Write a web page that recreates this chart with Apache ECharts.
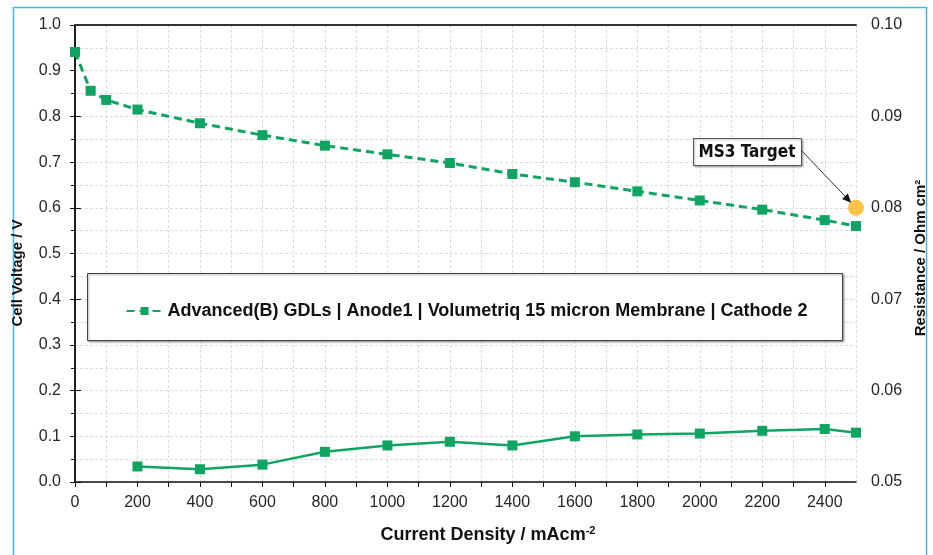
<!DOCTYPE html>
<html>
<head>
<meta charset="utf-8">
<script src="https://cdn.jsdelivr.net/npm/echarts@6/dist/echarts.min.js"></script>
<style>
  html, body { margin: 0; padding: 0; background: #fff; }
  #chart { width: 933px; height: 555px; }
</style>
</head>
<body>
<div id="chart"></div>
<script>
// current density (mA/cm2) for the polarisation curve
const currentDensity = [0, 50, 100, 200, 400, 600, 800, 1000, 1200, 1400, 1600, 1800, 2000, 2200, 2400, 2500]
const cellVoltage = [0.941, 0.856, 0.836, 0.815, 0.785, 0.759, 0.736, 0.717, 0.698, 0.674, 0.656, 0.636, 0.616, 0.596, 0.573, 0.560]

// HFR resistance, right axis
const resistanceDensity = [200, 400, 600, 800, 1000, 1200, 1400, 1600, 1800, 2000, 2200, 2400, 2500]
const resistance = [0.0517, 0.0514, 0.0519, 0.0533, 0.0540, 0.0544, 0.0540, 0.0550, 0.0552, 0.0553, 0.0556, 0.0558, 0.0554]

const targetPoint = [2500, 0.6]
const seriesName = 'Advanced(B) GDLs | Anode1 | Volumetriq 15 micron Membrane | Cathode 2'

const green = '#10a463'
const font = '"Liberation Sans", Arial, sans-serif'

const zip = (xs, ys) => xs.map((x, i) => [x, ys[i]])

const gridLine = { show: true, lineStyle: { color: '#dcdcdc', type: [3, 2], width: 1 } }

var myChart = echarts.init(document.getElementById('chart'))

myChart.setOption({
    animation: false,
    backgroundColor: '#fff',
    textStyle: { fontFamily: font },
    grid: {
        left: 75, right: 77, top: 25, bottom: 73,
        containLabel: false,
    },
    legend: {
        data: [seriesName],
        left: 'center',
        top: 297,
        z: 6,
        itemWidth: 36,
        itemHeight: 10,
        itemGap: 0,
        textStyle: { fontFamily: font, fontWeight: 'bold', fontSize: 18, color: '#111' },
    },
    xAxis: [{
        type: 'value',
        min: 0,
        max: 2500,
        interval: 100,
        axisLine: { show: true, lineStyle: { color: '#111', width: 1.5 } },
        axisTick: { show: true, length: 5, lineStyle: { color: '#111' } },
        axisLabel: {
            fontSize: 16, color: '#262626', margin: 13,
            showMaxLabel: false,
            formatter: v => (v % 200 === 0 ? String(v) : ''),
        },
        splitLine: gridLine,
    }, {
        // top frame line of the plot area
        type: 'value',
        position: 'top',
        min: 0,
        max: 2500,
        z: 5,
        axisLine: { show: true, lineStyle: { color: '#333', width: 2 } },
        axisTick: { show: false },
        axisLabel: { show: false },
        splitLine: { show: false },
    }],
    yAxis: [{
        type: 'value',
        min: 0,
        max: 1,
        interval: 0.1,
        axisLine: { show: true, lineStyle: { color: '#111', width: 1.5 } },
        axisTick: { show: true, length: 5, lineStyle: { color: '#111' } },
        minorTick: { show: true, splitNumber: 2, length: 4, lineStyle: { color: '#111' } },
        axisLabel: { fontSize: 16, color: '#262626', margin: 14, formatter: v => v.toFixed(1) },
        splitLine: gridLine,
        minorSplitLine: gridLine,
    }, {
        type: 'value',
        min: 0.05,
        max: 0.10,
        interval: 0.01,
        position: 'right',
        axisLine: { show: true, lineStyle: { color: '#111', width: 1.5 } },
        axisTick: { show: true, length: 6, lineStyle: { color: '#111' } },
        axisLabel: { fontSize: 16, color: '#262626', margin: 15, formatter: v => v.toFixed(2) },
        splitLine: { show: false },
    }],
    series: [{
        name: seriesName,
        type: 'line',
        yAxisIndex: 0,
        data: zip(currentDensity, cellVoltage),
        symbol: 'rect',
        symbolSize: 10,
        itemStyle: { color: green },
        lineStyle: { color: green, width: 3, type: [8, 5] },
        z: 3,
    }, {
        name: 'Resistance',
        type: 'line',
        yAxisIndex: 1,
        data: zip(resistanceDensity, resistance),
        symbol: 'rect',
        symbolSize: 10,
        itemStyle: { color: green },
        lineStyle: { color: green, width: 2.5 },
        z: 3,
    }, {
        name: 'MS3 Target',
        type: 'scatter',
        yAxisIndex: 0,
        data: [targetPoint],
        symbol: 'circle',
        symbolSize: 16,
        itemStyle: { color: '#fbb61d' },
        z: 4,
    }],
})

// annotations: axis names, legend frame, target callout with arrow
var tp = myChart.convertToPixel({ seriesIndex: 2 }, targetPoint)
var boxX = 693, boxY = 138, boxW = 108, boxH = 27
var sx = boxX + boxW, sy = boxY + 12
var dx = tp[0] - sx, dy = tp[1] - sy
var len = Math.sqrt(dx * dx + dy * dy)
var ux = dx / len, uy = dy / len
var ex = tp[0] - ux * 7, ey = tp[1] - uy * 7
var hx = ex - ux * 9, hy = ey - uy * 9

myChart.setOption({
    graphic: [
        { // outer frame
            type: 'rect', z: 0, silent: true,
            shape: { x: 13.5, y: 7.5, width: 913, height: 560 },
            style: { fill: 'none', stroke: '#3cb8ea', lineWidth: 1.5 },
        },
        { // legend box
            type: 'rect', z: 5, silent: true,
            shape: { x: 87.5, y: 273.5, width: 755, height: 67 },
            style: { fill: '#fff', stroke: '#444', lineWidth: 1, shadowBlur: 2, shadowOffsetX: 1, shadowOffsetY: 1, shadowColor: 'rgba(0,0,0,0.35)' },
        },
        {
            type: 'text', z: 5, rotation: Math.PI / 2,
            x: 18, y: 273,
            style: { text: 'Cell Voltage / V', font: 'bold 15px ' + font, fill: '#111', align: 'center', verticalAlign: 'middle' },
        },
        {
            type: 'text', z: 5, rotation: Math.PI / 2,
            x: 921, y: 258,
            style: { text: 'Resistance / Ohm cm²', font: 'bold 15px ' + font, fill: '#111', align: 'center', verticalAlign: 'middle' },
        },
        {
            type: 'text', z: 5,
            x: 488, y: 535,
            style: {
                text: '{a|Current Density / mAcm}{s|-2}',
                align: 'center', verticalAlign: 'middle',
                rich: {
                    a: { font: 'bold 18px ' + font, fill: '#111' },
                    s: { font: 'bold 11px ' + font, fill: '#111', verticalAlign: 'top', padding: [0, 0, 9, 0] },
                },
            },
        },
        { // MS3 target label
            type: 'rect', z: 6, silent: true,
            shape: { x: boxX + 0.5, y: boxY + 0.5, width: boxW, height: boxH },
            style: { fill: '#fff', stroke: '#555', lineWidth: 1, shadowBlur: 2, shadowOffsetX: 1, shadowOffsetY: 1, shadowColor: 'rgba(0,0,0,0.3)' },
        },
        {
            type: 'text', z: 7,
            x: boxX + boxW / 2, y: boxY + boxH / 2 + 1,
            style: { text: 'MS3 Target', font: 'bold 17px "DejaVu Sans Condensed", ' + font, fill: '#111', align: 'center', verticalAlign: 'middle' },
        },
        {
            type: 'line', z: 7, silent: true,
            shape: { x1: sx, y1: sy, x2: hx, y2: hy },
            style: { stroke: '#333', lineWidth: 1 },
        },
        {
            type: 'polygon', z: 7, silent: true,
            shape: { points: [[ex, ey], [hx - uy * 4, hy + ux * 4], [hx + uy * 4, hy - ux * 4]] },
            style: { fill: '#111' },
        },
    ],
})
</script>
</body>
</html>
